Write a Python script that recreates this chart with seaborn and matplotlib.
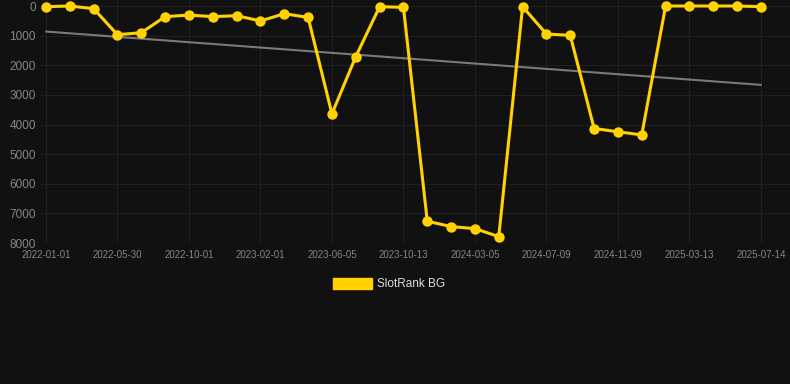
import numpy as np
import pandas as pd
import matplotlib
matplotlib.use("Agg")
import matplotlib.pyplot as plt
import matplotlib.patches as mpatches
import seaborn as sns

# Values (rank, lower is better -> inverted axis)
rank = [22, 0, 90, 970, 900, 360, 305, 360, 325, 505, 260, 385, 3640, 1710, 22,
        45, 7265, 7445, 7515, 7785, 22, 945, 990, 4135, 4245, 4350, 0, 0, 0, 0, 22]
tick_labels = ["2022-01-01", "2022-05-30", "2022-10-01", "2023-02-01", "2023-06-05",
               "2023-10-13", "2024-03-05", "2024-07-09", "2024-11-09", "2025-03-13",
               "2025-07-14"]
series_name = "SlotRank BG"

df = pd.DataFrame({"idx": np.arange(len(rank)), "rank": rank})

# linear trend line
coef = np.polyfit(df["idx"], df["rank"], 1)
df["trend"] = np.polyval(coef, df["idx"])

sns.set_style("dark")
plt.rcParams["font.family"] = ["Liberation Sans", "DejaVu Sans"]
bg = "#111111"
gold = "#ffd200"

fig = plt.figure(figsize=(7.9, 3.84), dpi=100, facecolor=bg)
ax = fig.add_axes([40 / 790, 1 - 243 / 384, 750 / 790, 243 / 384])
ax.set_facecolor(bg)

sns.lineplot(data=df, x="idx", y="trend", ax=ax, color="#7a7a7a", lw=1.5, zorder=2)
sns.lineplot(data=df, x="idx", y="rank", ax=ax, color=gold, lw=2.2,
             marker="o", markersize=7.5, markeredgewidth=0, zorder=3, clip_on=False)

ax.set_xlim(-0.25, 31.22)
ax.set_ylim(8000, -203)
ax.set_yticks(np.arange(0, 8001, 1000))
ax.set_yticklabels([str(v) for v in range(0, 8001, 1000)])
ax.set_xticks(df["idx"][::3])
ax.set_xticklabels(tick_labels)

ax.grid(True, color="#202020", lw=0.8)
ax.tick_params(axis="y", labelsize=8.5, length=0, pad=3)
ax.tick_params(axis="x", labelsize=7, length=0, pad=5)
for lbl in ax.get_xticklabels() + ax.get_yticklabels():
    lbl.set_color("#858585")
for s in ax.spines.values():
    s.set_visible(False)
ax.set_xlabel("")
ax.set_ylabel("")

handle = mpatches.Patch(color=gold, label=series_name)
fig.legend(handles=[handle], loc="center", bbox_to_anchor=(389 / 790, 1 - 284 / 384),
           frameon=False, handlelength=3.3, handleheight=1.1, fontsize=8.5,
           labelcolor="#dddddd", handletextpad=0.45)

fig.savefig("out.png", dpi=100, facecolor=bg)
